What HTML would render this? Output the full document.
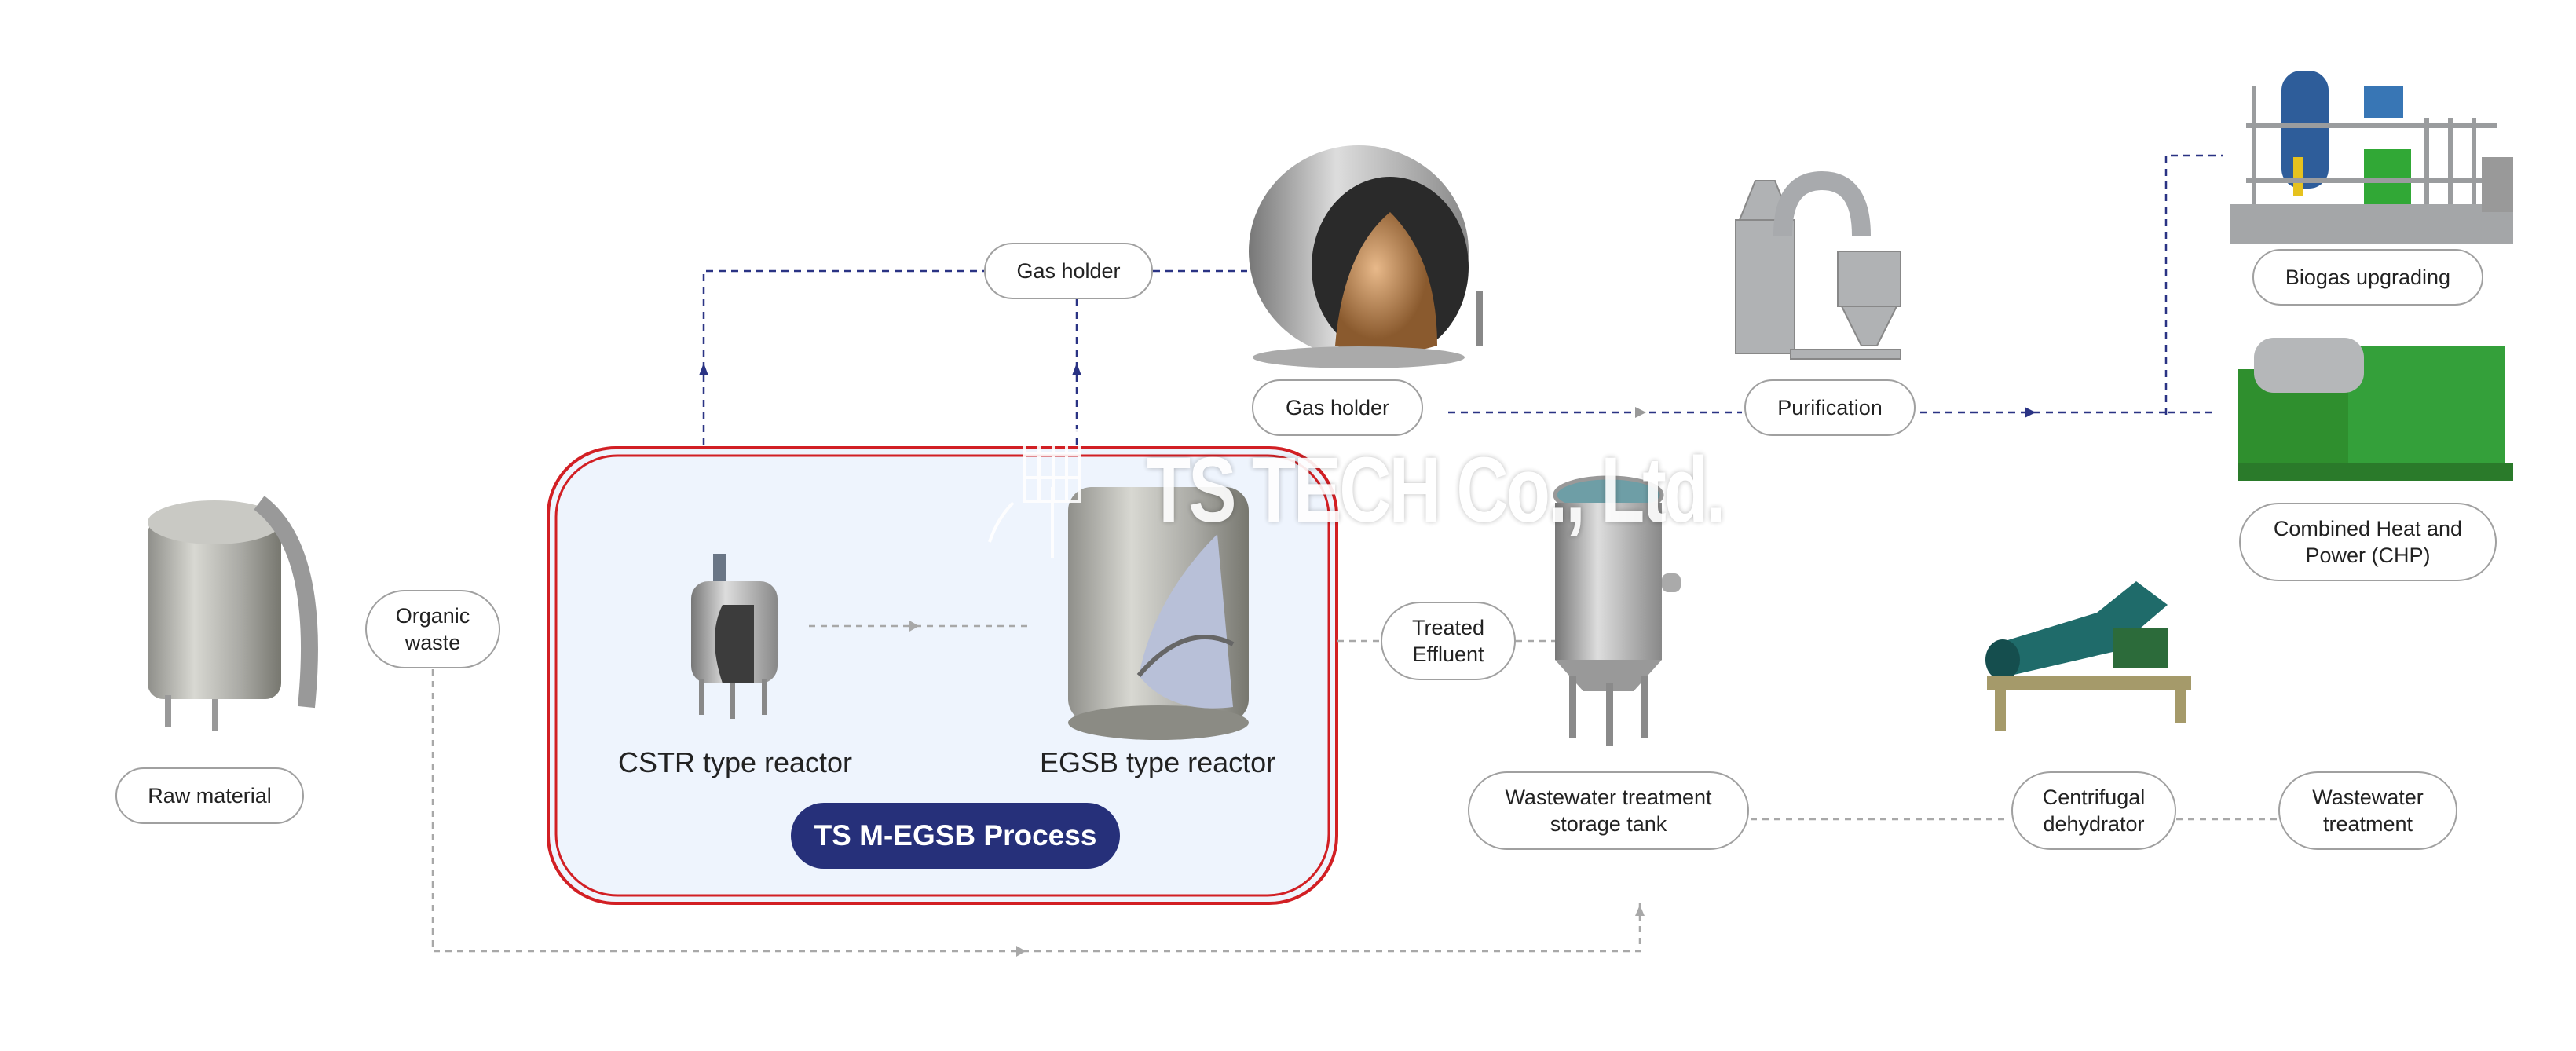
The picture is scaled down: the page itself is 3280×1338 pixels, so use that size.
<!DOCTYPE html>
<html><head><meta charset="utf-8"><style>
html,body{margin:0;padding:0;background:#fff}
#c{position:relative;width:3280px;height:1338px;overflow:hidden;background:#fff;font-family:"Liberation Sans",sans-serif}
.p{position:absolute;box-sizing:border-box;border:2px solid #a0a0a0;border-radius:50px;background:#fff;display:flex;align-items:center;justify-content:center;text-align:center;font-size:27px;line-height:34px;color:#222}
.t{position:absolute;font-size:36px;color:#222;text-align:center;white-space:nowrap}
svg{position:absolute;left:0;top:0}
</style></head><body><div id="c">
<svg width="3280" height="1338" viewBox="0 0 3280 1338">
<defs>
<linearGradient id="st" x1="0" x2="1"><stop offset="0" stop-color="#8f8f8a"/><stop offset=".35" stop-color="#d8d8d2"/><stop offset=".7" stop-color="#a9a9a4"/><stop offset="1" stop-color="#77776f"/></linearGradient>
<linearGradient id="st2" x1="0" x2="1"><stop offset="0" stop-color="#777"/><stop offset=".4" stop-color="#ddd"/><stop offset="1" stop-color="#888"/></linearGradient>
<radialGradient id="cu" cx=".4" cy=".4"><stop offset="0" stop-color="#e8b98a"/><stop offset="1" stop-color="#8a5a2e"/></radialGradient>
</defs>
<rect x="698" y="570" width="1004" height="580" rx="86" fill="#eef4fd" stroke="#d21f24" stroke-width="4"/>
<rect x="708" y="580" width="984" height="560" rx="78" fill="none" stroke="#d21f24" stroke-width="3"/>
<g stroke="#2a3384" stroke-width="2.5" fill="none" stroke-dasharray="9 7">
<path d="M896 566 V345 H1253"/>
<path d="M1371 381 V566"/>
<path d="M1468 345 H1588"/>
<path d="M1844 525 H2218"/>
<path d="M2445 525 H2760 M2758 528 V198 H2830 M2760 525 H2820"/>
</g>
<g fill="#2a3384">
<polygon points="896,462 890,478 902,478"/><polygon points="1371,462 1365,478 1377,478"/>
<polygon points="2578,518 2592,525 2578,532"/>
</g>
<polygon points="2082,518 2096,525 2082,532" fill="#999"/>
<g stroke="#a8a8a8" stroke-width="2.5" fill="none" stroke-dasharray="8 7">
<path d="M1030 797 H1314"/>
<path d="M1703 816 H1758 M1930 816 H1998"/>
<path d="M551 852 V1211 H2088 V1150"/>
<path d="M2229 1043 H2559 M2771 1043 H2901"/>
</g>
<g fill="#a8a8a8"><polygon points="1158,790 1170,797 1158,804"/><polygon points="1294,1204 1306,1211 1294,1218"/><polygon points="2088,1152 2082,1166 2094,1166"/></g>
<g>
<rect x="188" y="660" width="170" height="230" rx="20" fill="url(#st)"/>
<ellipse cx="273" cy="665" rx="85" ry="28" fill="#c9c9c4"/>
<path d="M330 640 q80 60 60 260" stroke="#999" stroke-width="22" fill="none"/>
<rect x="210" y="885" width="8" height="40" fill="#999"/><rect x="270" y="890" width="8" height="40" fill="#999"/>
</g>
<g>
<rect x="908" y="705" width="16" height="40" fill="#6a7686"/>
<rect x="880" y="740" width="110" height="130" rx="22" fill="url(#st2)"/>
<path d="M920 770 q-20 40 0 100 h40 v-100z" fill="#3c3c3c"/>
<rect x="890" y="865" width="6" height="45" fill="#888"/><rect x="970" y="865" width="6" height="45" fill="#888"/><rect x="930" y="870" width="6" height="45" fill="#888"/>
</g>
<g>
<rect x="1360" y="620" width="230" height="300" rx="30" fill="url(#st)"/>
<ellipse cx="1475" cy="920" rx="115" ry="22" fill="#8b8b84"/>
<path d="M1550 680 q-80 80 -100 180 q40 50 120 40 z" fill="#b8c0d8"/>
<path d="M1450 860 q60 -70 120 -40" stroke="#666" stroke-width="6" fill="none"/>
</g>
<g>
<ellipse cx="1730" cy="320" rx="140" ry="135" fill="url(#st2)"/>
<ellipse cx="1770" cy="340" rx="100" ry="115" fill="#2a2a2a"/>
<path d="M1700 440 q10 -120 70 -170 q60 60 60 170 q-65 20 -130 0z" fill="url(#cu)"/>
<ellipse cx="1730" cy="455" rx="135" ry="14" fill="#aaa"/>
<rect x="1880" y="370" width="8" height="70" fill="#888"/>
</g>
<g fill="#b0b2b4" stroke="#888" stroke-width="2">
<rect x="2210" y="280" width="75" height="170"/>
<polygon points="2215,280 2280,280 2260,230 2235,230"/>
<rect x="2340" y="320" width="80" height="70"/>
<polygon points="2345,390 2415,390 2390,440 2370,440"/>
<path d="M2270 300 q0 -70 50 -70 q50 0 50 70" fill="none" stroke="#a8aaad" stroke-width="24"/>
<rect x="2280" y="445" width="140" height="12"/>
</g>
<g>
<rect x="2840" y="260" width="360" height="50" fill="#a4a6a8"/>
<rect x="2905" y="90" width="60" height="150" rx="25" fill="#2e5d9a"/>
<rect x="3010" y="110" width="50" height="40" fill="#3876b5"/>
<rect x="3010" y="190" width="60" height="70" fill="#31a836"/>
<rect x="2920" y="200" width="12" height="50" fill="#e6c21e"/>
<g stroke="#9a9c9e" stroke-width="6"><path d="M2860 160 H3180 M2860 230 H3180 M2870 110 V260 M3090 150 V260 M3120 150 V260 M3150 150 V260"/></g>
<rect x="3160" y="200" width="40" height="70" fill="#999"/>
</g>
<g>
<rect x="2850" y="470" width="150" height="140" fill="#2f8f2e"/>
<rect x="2990" y="440" width="200" height="155" fill="#34a03a"/>
<rect x="2870" y="430" width="140" height="70" rx="25" fill="#b5b7b9"/>
<rect x="2850" y="590" width="350" height="22" fill="#2a7a2a"/>
</g>
<g>
<ellipse cx="2048" cy="630" rx="68" ry="22" fill="#6e9ea6" stroke="#999" stroke-width="5"/>
<rect x="1980" y="640" width="136" height="200" fill="url(#st2)"/>
<polygon points="1980,840 2116,840 2080,880 2016,880" fill="#999"/>
<rect x="1998" y="860" width="9" height="80" fill="#8a8a8a"/><rect x="2089" y="860" width="9" height="80" fill="#8a8a8a"/><rect x="2045" y="870" width="9" height="80" fill="#8a8a8a"/>
<rect x="2116" y="730" width="24" height="24" rx="8" fill="#aaa"/>
</g>
<g>
<polygon points="2540,820 2670,780 2720,740 2760,770 2690,830 2560,860" fill="#1f6b6a"/>
<ellipse cx="2550" cy="840" rx="22" ry="26" fill="#154e4e"/>
<rect x="2530" y="860" width="260" height="18" fill="#a59a6a"/>
<rect x="2540" y="860" width="14" height="70" fill="#a59a6a"/><rect x="2770" y="860" width="14" height="60" fill="#a59a6a"/>
<rect x="2690" y="800" width="70" height="50" fill="#2c6b3a"/>
</g>
<!-- watermark logo grid -->
<g fill="none" stroke="#fff" stroke-width="4" opacity=".9">
<path d="M1305 548 h70 v90 h-70z M1323 548 v90 M1341 548 v90 M1358 548 v90 M1305 578 h70 M1305 608 h70"/>
<path d="M1340 620 v90 M1290 640 q-20 20 -30 50"/>
</g>
</svg>
<div style="position:absolute;left:1460px;top:565px;font-size:118px;font-weight:bold;color:#fff;opacity:.9;text-shadow:0 0 8px rgba(0,0,0,.3);white-space:nowrap;letter-spacing:-4px;transform:scaleX(.78);transform-origin:left;line-height:118px">TS TECH Co., Ltd.</div>

<div class="p" style="left:147px;top:977px;width:240px;height:72px">Raw material</div>
<div class="p" style="left:465px;top:751px;width:172px;height:100px">Organic<br>waste</div>
<div class="p" style="left:1253px;top:309px;width:215px;height:72px">Gas holder</div>
<div class="p" style="left:1594px;top:483px;width:218px;height:72px">Gas holder</div>
<div class="p" style="left:2221px;top:483px;width:218px;height:72px">Purification</div>
<div class="p" style="left:2868px;top:317px;width:294px;height:72px">Biogas upgrading</div>
<div class="p" style="left:2851px;top:640px;width:328px;height:100px">Combined Heat and<br>Power (CHP)</div>
<div class="p" style="left:1758px;top:766px;width:172px;height:100px">Treated<br>Effluent</div>
<div class="p" style="left:1869px;top:982px;width:358px;height:100px">Wastewater treatment<br>storage tank</div>
<div class="p" style="left:2561px;top:982px;width:210px;height:100px">Centrifugal<br>dehydrator</div>
<div class="p" style="left:2901px;top:982px;width:228px;height:100px">Wastewater<br>treatment</div>

<div class="t" style="left:786px;top:950px;width:300px">CSTR type reactor</div>
<div class="t" style="left:1324px;top:950px;width:300px">EGSB type reactor</div>
<div style="position:absolute;left:1007px;top:1022px;width:419px;height:84px;border-radius:42px;background:#26307a;color:#fff;font-size:37px;font-weight:bold;display:flex;align-items:center;justify-content:center">TS M-EGSB Process</div>
</div></body></html>
